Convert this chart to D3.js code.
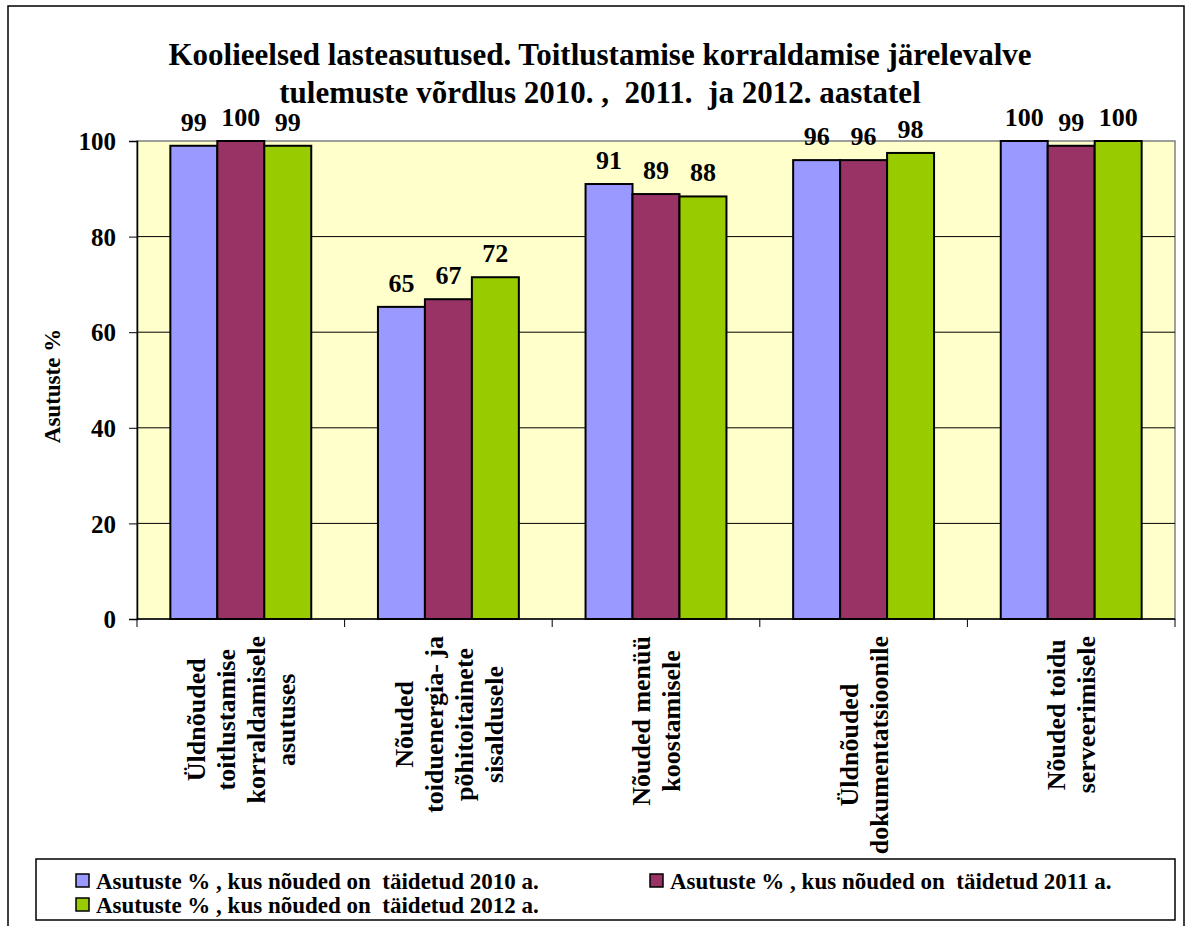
<!DOCTYPE html>
<meta charset="utf-8">
<script src="https://d3js.org/d3.v7.min.js"></script>
<body style="margin:0; background:#ffffff">
<div id="chart"></div>
</body>
<script>

    // Data
    var categories = [
        ["Üldnõuded", "toitlustamise", "korraldamisele", "asutuses"],
        ["Nõuded", "toiduenergia- ja", "põhitoitainete", "sisaldusele"],
        ["Nõuded menüü", "koostamisele"],
        ["Üldnõuded", "dokumentatsioonile"],
        ["Nõuded toidu", "serveerimisele"]
    ];
    var seriesNames = [
        "Asutuste % , kus nõuded on  täidetud 2010 a.",
        "Asutuste % , kus nõuded on  täidetud 2011 a.",
        "Asutuste % , kus nõuded on  täidetud 2012 a."
    ];
    var values2010 = [99, 65.3, 91, 96, 100];
    var values2011 = [100, 66.9, 88.9, 96, 99];
    var values2012 = [99, 71.5, 88.4, 97.5, 100];
    var yTicks = [0, 20, 40, 60, 80, 100];
    var titleLines = [
        "Koolieelsed lasteasutused. Toitlustamise korraldamise järelevalve",
        "tulemuste võrdlus 2010. ,  2011.  ja 2012. aastatel"
    ];
    var yTitle = "Asutuste %";

    var colors = ["#9999ff", "#993366", "#99cc00"];
    var series = [values2010, values2011, values2012];
    var font = "'Liberation Serif', 'Times New Roman', serif";

    var W = 1188, H = 926;
    var plot = {left: 137, top: 141, right: 1175, bottom: 619};

    var svg = d3.select("#chart").append("svg")
        .attr("width", W).attr("height", H)
        .style("font-family", font)
        .style("font-weight", "bold");

    // Outer chart frame
    svg.append("rect")
        .attr("x", 8).attr("y", 6)
        .attr("width", 1176).attr("height", 940)
        .attr("fill", "#fff").attr("stroke", "#000").attr("stroke-width", 1.5);

    // Title
    svg.append("g").selectAll("text")
        .data(titleLines)
        .enter().append("text")
        .attr("x", 600)
        .attr("y", function (d, i) { return 65 + i * 38; })
        .attr("text-anchor", "middle")
        .style("font-size", "31px")
        .style("white-space", "pre")
        .text(function (d) { return d; });

    // Scales
    var x0 = d3.scaleBand()
        .domain(d3.range(categories.length))
        .range([plot.left, plot.right]);
    var x1 = d3.scaleBand()
        .domain(d3.range(series.length))
        .range([0, x0.bandwidth()])
        .paddingInner(0)
        .paddingOuter(0.71);
    var y = d3.scaleLinear()
        .domain([0, 100])
        .range([plot.bottom, plot.top]);

    // Plot background
    svg.append("rect")
        .attr("x", plot.left).attr("y", plot.top)
        .attr("width", plot.right - plot.left).attr("height", plot.bottom - plot.top)
        .attr("fill", "#ffffcc").attr("stroke", "#808080").attr("stroke-width", 1.5);

    // Gridlines
    svg.append("g").selectAll("line")
        .data(yTicks.slice(1, -1))
        .enter().append("line")
        .attr("x1", plot.left).attr("x2", plot.right)
        .attr("y1", function (d) { return y(d); })
        .attr("y2", function (d) { return y(d); })
        .attr("stroke", "#000").attr("stroke-width", 1);

    // Bars
    var groups = svg.append("g").selectAll("g")
        .data(categories)
        .enter().append("g")
        .attr("transform", function (d, i) { return "translate(" + x0(i) + ",0)"; });

    groups.selectAll("rect")
        .data(function (d, i) { return series.map(function (s, k) { return {k: k, v: s[i]}; }); })
        .enter().append("rect")
        .attr("x", function (d) { return x1(d.k); })
        .attr("y", function (d) { return y(d.v); })
        .attr("width", x1.bandwidth())
        .attr("height", function (d) { return plot.bottom - y(d.v); })
        .attr("fill", function (d) { return colors[d.k]; })
        .attr("stroke", "#000").attr("stroke-width", 2);

    // Value labels
    groups.selectAll("text")
        .data(function (d, i) { return series.map(function (s, k) { return {k: k, v: s[i]}; }); })
        .enter().append("text")
        .attr("x", function (d) { return x1(d.k) + x1.bandwidth() / 2; })
        .attr("y", function (d) { return y(d.v) - 15; })
        .attr("text-anchor", "middle")
        .style("font-size", "26px")
        .text(function (d) { return Math.round(d.v); });

    // Y axis
    var yAxis = svg.append("g")
        .attr("transform", "translate(" + plot.left + ",0)")
        .call(d3.axisLeft(y).tickValues(yTicks).tickSize(8).tickPadding(13));
    yAxis.selectAll("text").style("font-size", "25px").style("font-family", font).attr("fill", "#000").attr("dy", "0.35em");
    yAxis.selectAll("line").attr("stroke", "#000");
    yAxis.select(".domain").attr("stroke", "#000").attr("stroke-width", 1.5);

    // X axis (category boundaries as ticks)
    var xAxisG = svg.append("g");
    xAxisG.append("line")
        .attr("x1", plot.left).attr("x2", plot.right)
        .attr("y1", plot.bottom).attr("y2", plot.bottom)
        .attr("stroke", "#000").attr("stroke-width", 1.5);
    xAxisG.selectAll(".tick")
        .data(d3.range(categories.length + 1))
        .enter().append("line")
        .attr("x1", function (d) { return plot.left + d * x0.bandwidth(); })
        .attr("x2", function (d) { return plot.left + d * x0.bandwidth(); })
        .attr("y1", plot.bottom).attr("y2", plot.bottom + 8)
        .attr("stroke", "#000");

    // Category labels (rotated, lines centered)
    var lineH = 30, labelTop = 636;
    categories.forEach(function (lines, i) {
        var cx = x0(i) + x0.bandwidth() / 2;
        var g = svg.append("g");
        var texts = g.selectAll("text")
            .data(lines)
            .enter().append("text")
            .attr("text-anchor", "middle")
            .attr("dy", "0.35em")
            .style("font-size", "26px")
            .text(function (d) { return d; });
        var maxLen = d3.max(texts.nodes(), function (n) { return n.getComputedTextLength(); });
        texts.attr("transform", function (d, j) {
            var lx = cx + (j - (lines.length - 1) / 2) * lineH;
            return "translate(" + lx + "," + (labelTop + maxLen / 2) + ") rotate(-90)";
        });
    });

    // Y axis title
    svg.append("text")
        .attr("transform", "translate(60,386) rotate(-90)")
        .attr("text-anchor", "middle")
        .style("font-size", "23px")
        .text(yTitle);

    // Legend
    var legend = svg.append("g");
    legend.append("rect")
        .attr("x", 36).attr("y", 859)
        .attr("width", plot.right - 36).attr("height", 61)
        .attr("fill", "#fff").attr("stroke", "#000").attr("stroke-width", 1.5);
    var legendPos = [[76, 881], [650, 881], [76, 905]];
    var items = legend.selectAll(".item")
        .data(seriesNames)
        .enter().append("g")
        .attr("transform", function (d, i) { return "translate(" + legendPos[i][0] + "," + legendPos[i][1] + ")"; });
    items.append("rect")
        .attr("x", 0).attr("y", -7)
        .attr("width", 13).attr("height", 13)
        .attr("fill", function (d, i) { return colors[i]; })
        .attr("stroke", "#000").attr("stroke-width", 1.5);
    items.append("text")
        .attr("x", 20).attr("dy", "0.35em")
        .style("font-size", "23px")
        .style("white-space", "pre")
        .text(function (d) { return d; });

</script>
